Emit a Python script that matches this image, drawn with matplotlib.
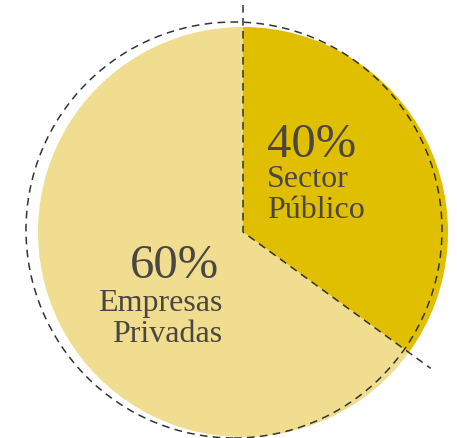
import numpy as np
import matplotlib.pyplot as plt
from matplotlib.patches import Circle

# wedge shares as drawn (the slice edge sits at about -36 deg)
categories = ["Sector\nPúblico", "Empresas\nPrivadas"]
shares = [35, 65]
pct_labels = ["40%", "60%"]
colors = ["#E0BF00", "#F0DD8F"]

W, H = 457, 438
fig = plt.figure(figsize=(W / 100, H / 100), dpi=100)
ax = fig.add_axes([0, 0, 1, 1])

cx, cy, r = 243, H - 232, 205
ax.pie(shares, colors=colors, startangle=90, counterclock=False,
       radius=r, center=(cx, cy), wedgeprops=dict(linewidth=0))

# dashed guide circle, a bit off-centre
ax.add_patch(Circle((234, H - 230), 208, fill=False, ls=(0, (5, 3.5)),
                    lw=1.1, color="#333333"))

# dashed guide lines: top -> centre -> past the slice edge
ang = np.deg2rad(90 - 360 * shares[0] / sum(shares))
L = 232
ax.plot([cx, cx, cx + L * np.cos(ang)], [H - 5, cy, cy + L * np.sin(ang)],
        ls=(0, (5, 3.5)), lw=1.1, color="#333333")

txt = "#4a4642"
font = "Liberation Serif"
ax.text(267, H - 157, pct_labels[0], fontsize=35, color=txt, family=font, ha="left")
ax.text(267, H - 218, categories[0], fontsize=23, color=txt, family=font,
        ha="left", linespacing=1.1)
ax.text(219, H - 278, pct_labels[1], fontsize=35, color=txt, family=font, ha="right")
ax.text(222, H - 342, categories[1], fontsize=23, color=txt, family=font,
        ha="right", linespacing=1.1, multialignment="right")

ax.set_xlim(0, W)
ax.set_ylim(0, H)
ax.set_aspect("equal")
ax.axis("off")

fig.savefig("out.png", dpi=100)
